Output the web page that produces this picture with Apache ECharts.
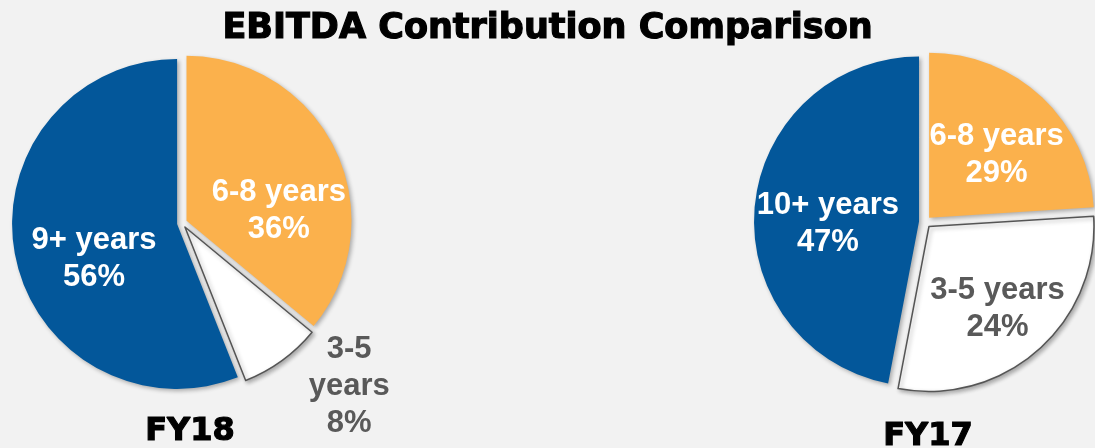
<!DOCTYPE html>
<html>
<head>
<meta charset="utf-8">
<title>EBITDA Contribution Comparison</title>
<script src="https://cdn.jsdelivr.net/npm/echarts@6/dist/echarts.min.js"></script>
<style>
    html, body { margin: 0; padding: 0; background: #f2f2f2; }
    #main { width: 1095px; height: 448px; }
</style>
</head>
<body>
<div id="main"></div>
<script>
// data
var namesFY18 = ['6-8 years', '3-5 years', '9+ years'];
var namesFY17 = ['6-8 years', '3-5 years', '10+ years'];
var valuesFY18 = [36, 8, 56];
// FY17 slice sizes as drawn (the orange slice is drawn smaller than the white one)
var valuesFY17 = [24, 29, 47];
// FY17 percentages as printed on the slices
var labelsFY17 = [29, 24, 47];
var periods = ['FY18', 'FY17'];

var sliceColors = ['#fbb14c', '#ffffff', '#03579a'];
var labelColors = ['#ffffff', '#595959', '#ffffff'];

var myChart = echarts.init(document.getElementById('main'));

function buildData(names, values, printed) {
    return names.map(function (name, i) {
        return {
            name: name,
            value: values[i],
            printed: printed[i],
            selected: true,
            itemStyle: {
                color: sliceColors[i],
                borderColor: i === 1 ? '#555555' : sliceColors[i],
                borderWidth: i === 1 ? 1.5 : 0,
                shadowColor: 'rgba(0,0,0,0.3)',
                shadowBlur: 4,
                shadowOffsetX: 2,
                shadowOffsetY: 2
            },
            label: { color: labelColors[i] }
        };
    });
}

function pieSeries(names, values, printed, center, offset, shifts, wrapIndex) {
    return {
        type: 'pie',
        radius: 165,
        center: center,
        startAngle: 90,
        clockwise: true,
        selectedMode: 'multiple',
        selectedOffset: offset,
        avoidLabelOverlap: false,
        label: {
            show: true,
            position: 'inside',
            fontFamily: 'Liberation Sans',
            fontWeight: 'bold',
            fontSize: 31,
            lineHeight: 37,
            formatter: function (p) {
                var n = p.dataIndex === wrapIndex ? p.name.replace(' ', '\n') : p.name;
                return n + '\n' + p.data.printed + '%';
            }
        },
        labelLine: { show: false },
        labelLayout: function (params) {
            var s = shifts[params.dataIndex];
            return { dx: s[0], dy: s[1] };
        },
        emphasis: { disabled: true },
        data: buildData(names, values, printed)
    };
}

// heavy headings: bold face plus a thin same-colour outline
var headFont = {
    fontFamily: 'DejaVu Sans',
    fontWeight: 'bold',
    color: '#000000',
    textBorderColor: '#000000',
    textBorderWidth: 1.2
};

var option = {
    backgroundColor: '#f2f2f2',
    animation: false,
    title: [
        {
            text: 'EBITDA Contribution Comparison',
            left: 'center',
            top: 6,
            textStyle: Object.assign({ fontSize: 35 }, headFont)
        },
        {
            text: periods[0],
            left: 185,
            top: 411,
            textAlign: 'center',
            textStyle: Object.assign({ fontSize: 32 }, headFont)
        },
        {
            text: periods[1],
            left: 923,
            top: 416,
            textAlign: 'center',
            textStyle: Object.assign({ fontSize: 32 }, headFont)
        }
    ],
    series: [
        pieSeries(namesFY18, valuesFY18, valuesFY18, [182, 223], 5, [[15, 26], [114, 90], [1, 19]], 1),
        pieSeries(namesFY17, valuesFY17, labelsFY17, [925, 222], 6, [[9, 0], [12, 18], [-6, 11]], -1)
    ]
};
myChart.setOption(option);
</script>
</body>
</html>
